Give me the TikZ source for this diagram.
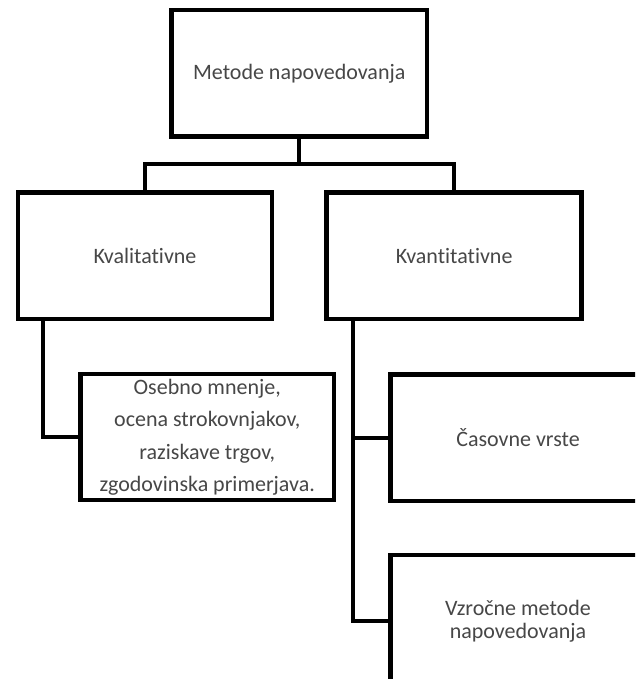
\documentclass[tikz,border=0pt]{standalone}
\usepackage{fontspec}
\setmainfont{Carlito}[Ligatures={NoCommon}]
\begin{document}
\begin{tikzpicture}[x=1pt,y=-1pt,
  box/.style={draw=black, line width=4.5pt, rectangle, inner sep=0pt, outer sep=0pt,
    text=black!72, align=center, font=\fontsize{22}{23}\selectfont},
  conn/.style={draw=black, line width=4pt}]
\useasboundingbox (0,0) rectangle (635,679);
\clip (0,0) rectangle (635,679);
\fill[white] (0,0) rectangle (635,679);
\node[box, minimum width=255.5pt, minimum height=126.5pt] (top) at (299.25,73.25) {Metode napovedovanja};
\node[box, minimum width=254pt, minimum height=126.5pt] (kval) at (145,255.75) {Kvalitativne};
\node[box, minimum width=255pt, minimum height=126.5pt] (kvan) at (454.2,255.75) {Kvantitativne};
\node[box, minimum width=253.5pt, minimum height=126pt, font=\fontsize{22}{32.5}\selectfont] (osebno) at (207.25,437)
  {Osebno mnenje,\\ocena strokovnjakov,\\raziskave trgov,\\zgodovinska primerjava.};
\node[box, minimum width=255pt, minimum height=126.5pt] (cas) at (518,437.5) {Časovne vrste};
\node[box, minimum width=255pt, minimum height=132pt, font=\fontsize{22}{22.5}\selectfont] (vzr) at (518,621)
  {Vzročne metode\\napovedovanja};
\coordinate (j) at (299.25,164.5);
\coordinate (lc) at (43,319);
\coordinate (rc) at (352.5,319);
\draw[conn] (top.south) -- (j);
\draw[conn] (kval.north) |- (j) -| (kvan.north);
\draw[conn] (lc) |- (osebno.west);
\draw[conn] (rc) |- (cas.west);
\draw[conn] (rc) |- (vzr.west);
\end{tikzpicture}
\end{document}
